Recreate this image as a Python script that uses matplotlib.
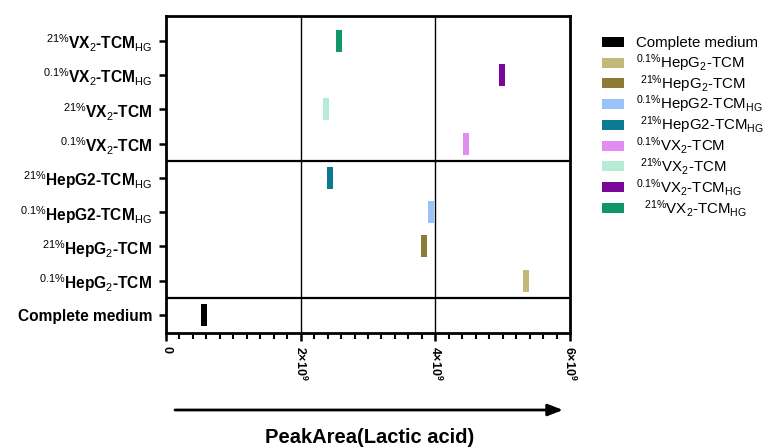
import numpy as np
import matplotlib
matplotlib.use("Agg")
import matplotlib.pyplot as plt
from matplotlib.ticker import MultipleLocator, FixedLocator, FuncFormatter
from matplotlib.patches import Rectangle

plt.rcParams['font.family'] = ['Liberation Sans', 'DejaVu Sans']
plt.rcParams['mathtext.fontset'] = 'custom'
plt.rcParams['mathtext.rm'] = 'Liberation Sans'
plt.rcParams['mathtext.bf'] = 'Liberation Sans:bold'
plt.rcParams['mathtext.it'] = 'Liberation Sans:italic'

# groups, bottom to top
groups = ['Complete medium', '0.1%HepG2-TCM', '21%HepG2-TCM', '0.1%HepG2-TCM_HG',
          '21%HepG2-TCM_HG', '0.1%VX2-TCM', '21%VX2-TCM', '0.1%VX2-TCM_HG', '21%VX2-TCM_HG']
ytick_labels = [
    'Complete medium',
    r'$^{\mathrm{0.1\%}}$HepG$_{\mathrm{2}}$-TCM',
    r'$^{\mathrm{21\%}}$HepG$_{\mathrm{2}}$-TCM',
    r'$^{\mathrm{0.1\%}}$HepG2-TCM$_{\mathrm{HG}}$',
    r'$^{\mathrm{21\%}}$HepG2-TCM$_{\mathrm{HG}}$',
    r'$^{\mathrm{0.1\%}}$VX$_{\mathrm{2}}$-TCM',
    r'$^{\mathrm{21\%}}$VX$_{\mathrm{2}}$-TCM',
    r'$^{\mathrm{0.1\%}}$VX$_{\mathrm{2}}$-TCM$_{\mathrm{HG}}$',
    r'$^{\mathrm{21\%}}$VX$_{\mathrm{2}}$-TCM$_{\mathrm{HG}}$',
]
legend_labels = [
    'Complete medium',
    r'$^{\mathrm{0.1\%}}$HepG$_{\mathrm{2}}$-TCM',
    r' $^{\mathrm{21\%}}$HepG$_{\mathrm{2}}$-TCM',
    r'$^{\mathrm{0.1\%}}$HepG2-TCM$_{\mathrm{HG}}$',
    r' $^{\mathrm{21\%}}$HepG2-TCM$_{\mathrm{HG}}$',
    r'$^{\mathrm{0.1\%}}$VX$_{\mathrm{2}}$-TCM',
    r' $^{\mathrm{21\%}}$VX$_{\mathrm{2}}$-TCM',
    r'$^{\mathrm{0.1\%}}$VX$_{\mathrm{2}}$-TCM$_{\mathrm{HG}}$',
    r'  $^{\mathrm{21\%}}$VX$_{\mathrm{2}}$-TCM$_{\mathrm{HG}}$',
]
# peak area (lactic acid)
peak_area = [0.57e9, 5.35e9, 3.83e9, 3.94e9, 2.44e9, 4.45e9, 2.38e9, 4.99e9, 2.57e9]
colors = ['#000000', '#C3B87C', '#8C7A36', '#98C3FC', '#0D7A93',
          '#E08CF3', '#B6EBD6', '#79089A', '#0F9866']
dividers = [0.5, 4.5]
xticks = [0, 2e9, 4e9, 6e9]

W, H = 770, 448
fig = plt.figure(figsize=(W / 100, H / 100), dpi=100)
ax = fig.add_axes([166 / W, 1 - 333 / H, (570 - 166) / W, (333 - 16) / H])

bar_marker = [(-3, -11), (3, -11), (3, 11), (-3, 11), (-3, -11)]
ypos = np.arange(len(groups))
for y, v, c in zip(ypos, peak_area, colors):
    ax.scatter([v], [y], marker=bar_marker, s=(22 * 0.72) ** 2, color=c,
               linewidths=0, zorder=3)

for x in xticks[1:-1]:
    ax.axvline(x, color='black', lw=1.0, zorder=1)
for d in dividers:
    ax.axhline(d, color='black', lw=1.6, zorder=1)

ax.set_xlim(0, 6e9)
ax.set_ylim(-0.53, 8.73)
ax.xaxis.set_major_locator(FixedLocator(xticks))
ax.xaxis.set_minor_locator(MultipleLocator(2e8))
ax.xaxis.set_major_formatter(FuncFormatter(
    lambda v, p: '0' if v == 0 else r'%d×10$^{\mathbf{9}}$' % round(v / 1e9)))
ax.set_yticks(ypos)
ax.set_yticklabels(ytick_labels, fontsize=11.2, fontweight='bold')
for lab in ax.get_xticklabels():
    lab.set_rotation(-90)
    lab.set_fontweight('bold')
    lab.set_fontsize(9)
    lab.set_va('top')
    lab.set_ha('center')

for s in ax.spines.values():
    s.set_linewidth(2.0)
ax.tick_params(axis='x', which='major', length=6, width=1.8, pad=3)
ax.tick_params(axis='x', which='minor', length=4, width=1.5)
ax.tick_params(axis='y', which='major', length=5, width=1.8, pad=5)

# legend, drawn row by row so the spacing stays even
row0, drow = 42, 20.75
for i, (lab, c) in enumerate(zip(legend_labels, colors)):
    yc = row0 + i * drow
    fig.patches.append(Rectangle((602 / W, 1 - (yc + 5) / H), 22 / W, 10 / H,
                                 transform=fig.transFigure, facecolor=c,
                                 edgecolor='none', figure=fig))
    fig.text(636 / W, 1 - (yc + 5.2) / H, lab, fontsize=10.8, ha='left', va='baseline')

ax.annotate('', xy=(563 / W, 1 - 410 / H), xytext=(175 / W, 1 - 410 / H),
            xycoords='figure fraction', textcoords='figure fraction',
            arrowprops=dict(arrowstyle='-|>,head_length=0.9,head_width=0.35',
                            color='black', lw=2, shrinkA=0, shrinkB=0))
fig.text(370 / W, 1 - 437 / H, 'PeakArea(Lactic acid)', ha='center', va='center',
         fontsize=14.5, fontweight='bold')

fig.savefig('out.png', dpi=100)
